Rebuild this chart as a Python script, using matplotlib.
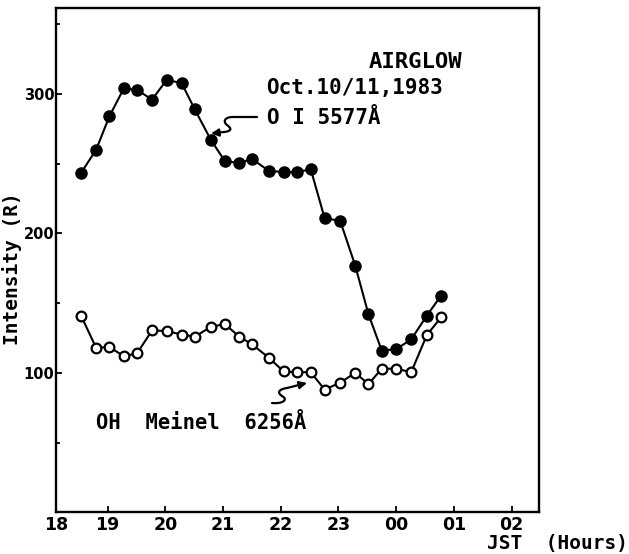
import matplotlib
matplotlib.use("Agg")
import matplotlib.pyplot as plt
from matplotlib.path import Path
from matplotlib.patches import FancyArrowPatch
from matplotlib import font_manager

# ---- data ----
hours = [18.54, 18.80, 19.03, 19.28, 19.51, 19.77, 20.02, 20.28, 20.51, 20.79,
         21.03, 21.28, 21.50, 21.79, 22.05, 22.28, 22.52, 22.76, 23.03, 23.29,
         23.52, 23.75, 24.00, 24.26, 24.53, 24.78]
oi_5577 = [243.5, 260, 284, 304, 303, 296, 310, 308, 289, 267,
           252, 250.5, 253.5, 245, 244, 244, 246, 211, 209, 177,
           142, 116, 117, 124, 141, 155.5]
oh_6256 = [141, 118, 118.5, 112, 114, 130.5, 130, 127.5, 126, 133,
           135, 126, 120.5, 111, 101, 100.5, 100.5, 88, 93, 100,
           92, 103, 103, 100.5, 127, 140]
x_ticks = [18.1, 19, 20, 21, 22, 23, 24, 25, 26]
x_ticklabels = ["18", "19", "20", "21", "22", "23", "00", "01", "02"]
y_ticks = [100, 200, 300]
y_minor = [50, 150, 250, 350]

installed = {f.name for f in font_manager.fontManager.ttflist}
narrow = "Liberation Sans Narrow" in installed
tick_family = "Liberation Sans Narrow" if narrow else "DejaVu Sans"

W, H = 629, 554
fig = plt.figure(figsize=(W / 100, H / 100), dpi=100)
ax = fig.add_axes([55.7 / W, 1 - 512.3 / H, (539.3 - 55.7) / W, (512.3 - 8.3) / H])

ax.plot(hours, oi_5577, color="black", lw=1.5, marker="o", ms=8,
        mfc="black", mec="black", zorder=3)
ax.plot(hours, oh_6256, color="black", lw=1.5, marker="o", ms=7,
        mfc="white", mec="black", mew=1.6, zorder=3)

ax.set_xlim(18.1, 26.48)
ax.set_ylim(0, 361.5)
ax.set_xticks(x_ticks)
ax.set_xticklabels(x_ticklabels)
ax.set_yticks(y_ticks)
ax.set_yticks(y_minor, minor=True)
ax.tick_params(axis="both", which="major", direction="in", length=4, width=1.3,
               colors="black")
ax.tick_params(axis="y", which="major", pad=1)
ax.tick_params(axis="x", which="major", pad=3)
ax.tick_params(axis="y", which="minor", direction="in", length=3, width=1.3)
for lab in ax.get_xticklabels():
    lab.set_family(tick_family)
    lab.set_fontsize(14 if narrow else 12.5)
    lab.set_fontweight("bold")
for lab in ax.get_yticklabels():
    lab.set_family(tick_family)
    lab.set_fontsize(12.5 if narrow else 10.5)
    lab.set_fontweight("bold")
for s in ax.spines.values():
    s.set_linewidth(1.7)
    s.set_color("black")


def fx(px):
    return px / W


def fy(py):
    return 1 - py / H


mono = "DejaVu Sans Mono"
fig.text(fx(369), fy(62), "AIRGLOW", family=mono, fontsize=16,
         ha="left", va="center", fontweight="bold")
fig.text(fx(266), fy(88), "Oct.10/11,1983", family=mono, fontsize=15,
         ha="left", va="center", fontweight="bold")
fig.text(fx(267), fy(118), "O I 5577Å", family=mono, fontsize=15,
         ha="left", va="center", fontweight="bold")
fig.text(fx(96), fy(423), "OH  Meinel  6256Å", family=mono, fontsize=14.8,
         ha="left", va="center", fontweight="bold")
fig.text(fx(12.5), fy(269), "Intensity (R)", family=mono, fontsize=14,
         rotation=90, ha="center", va="center", fontweight="bold")
fig.text(fx(628), fy(543), "JST  (Hours)", family=mono, fontsize=14,
         ha="right", va="center", fontweight="bold")


def arrow(verts, codes):
    pts = [(fx(x), fy(y)) for x, y in verts]
    p = FancyArrowPatch(path=Path(pts, codes), arrowstyle="-|>",
                        mutation_scale=11, lw=1.6, color="black",
                        transform=fig.transFigure)
    fig.add_artist(p)


M, L, C = Path.MOVETO, Path.LINETO, Path.CURVE4
arrow([(257, 117), (233, 117),
       (224, 117), (223, 122), (227, 125),
       (231, 128), (233, 131), (224, 132),
       (211, 133.5)],
      [M, L, C, C, C, C, C, C, L])
arrow([(272, 403),
       (282, 404), (289, 400), (282, 396),
       (276, 392), (280, 389), (287, 388),
       (307, 383)],
      [M, C, C, C, C, C, C, L])

fig.savefig("out.png", dpi=100)
